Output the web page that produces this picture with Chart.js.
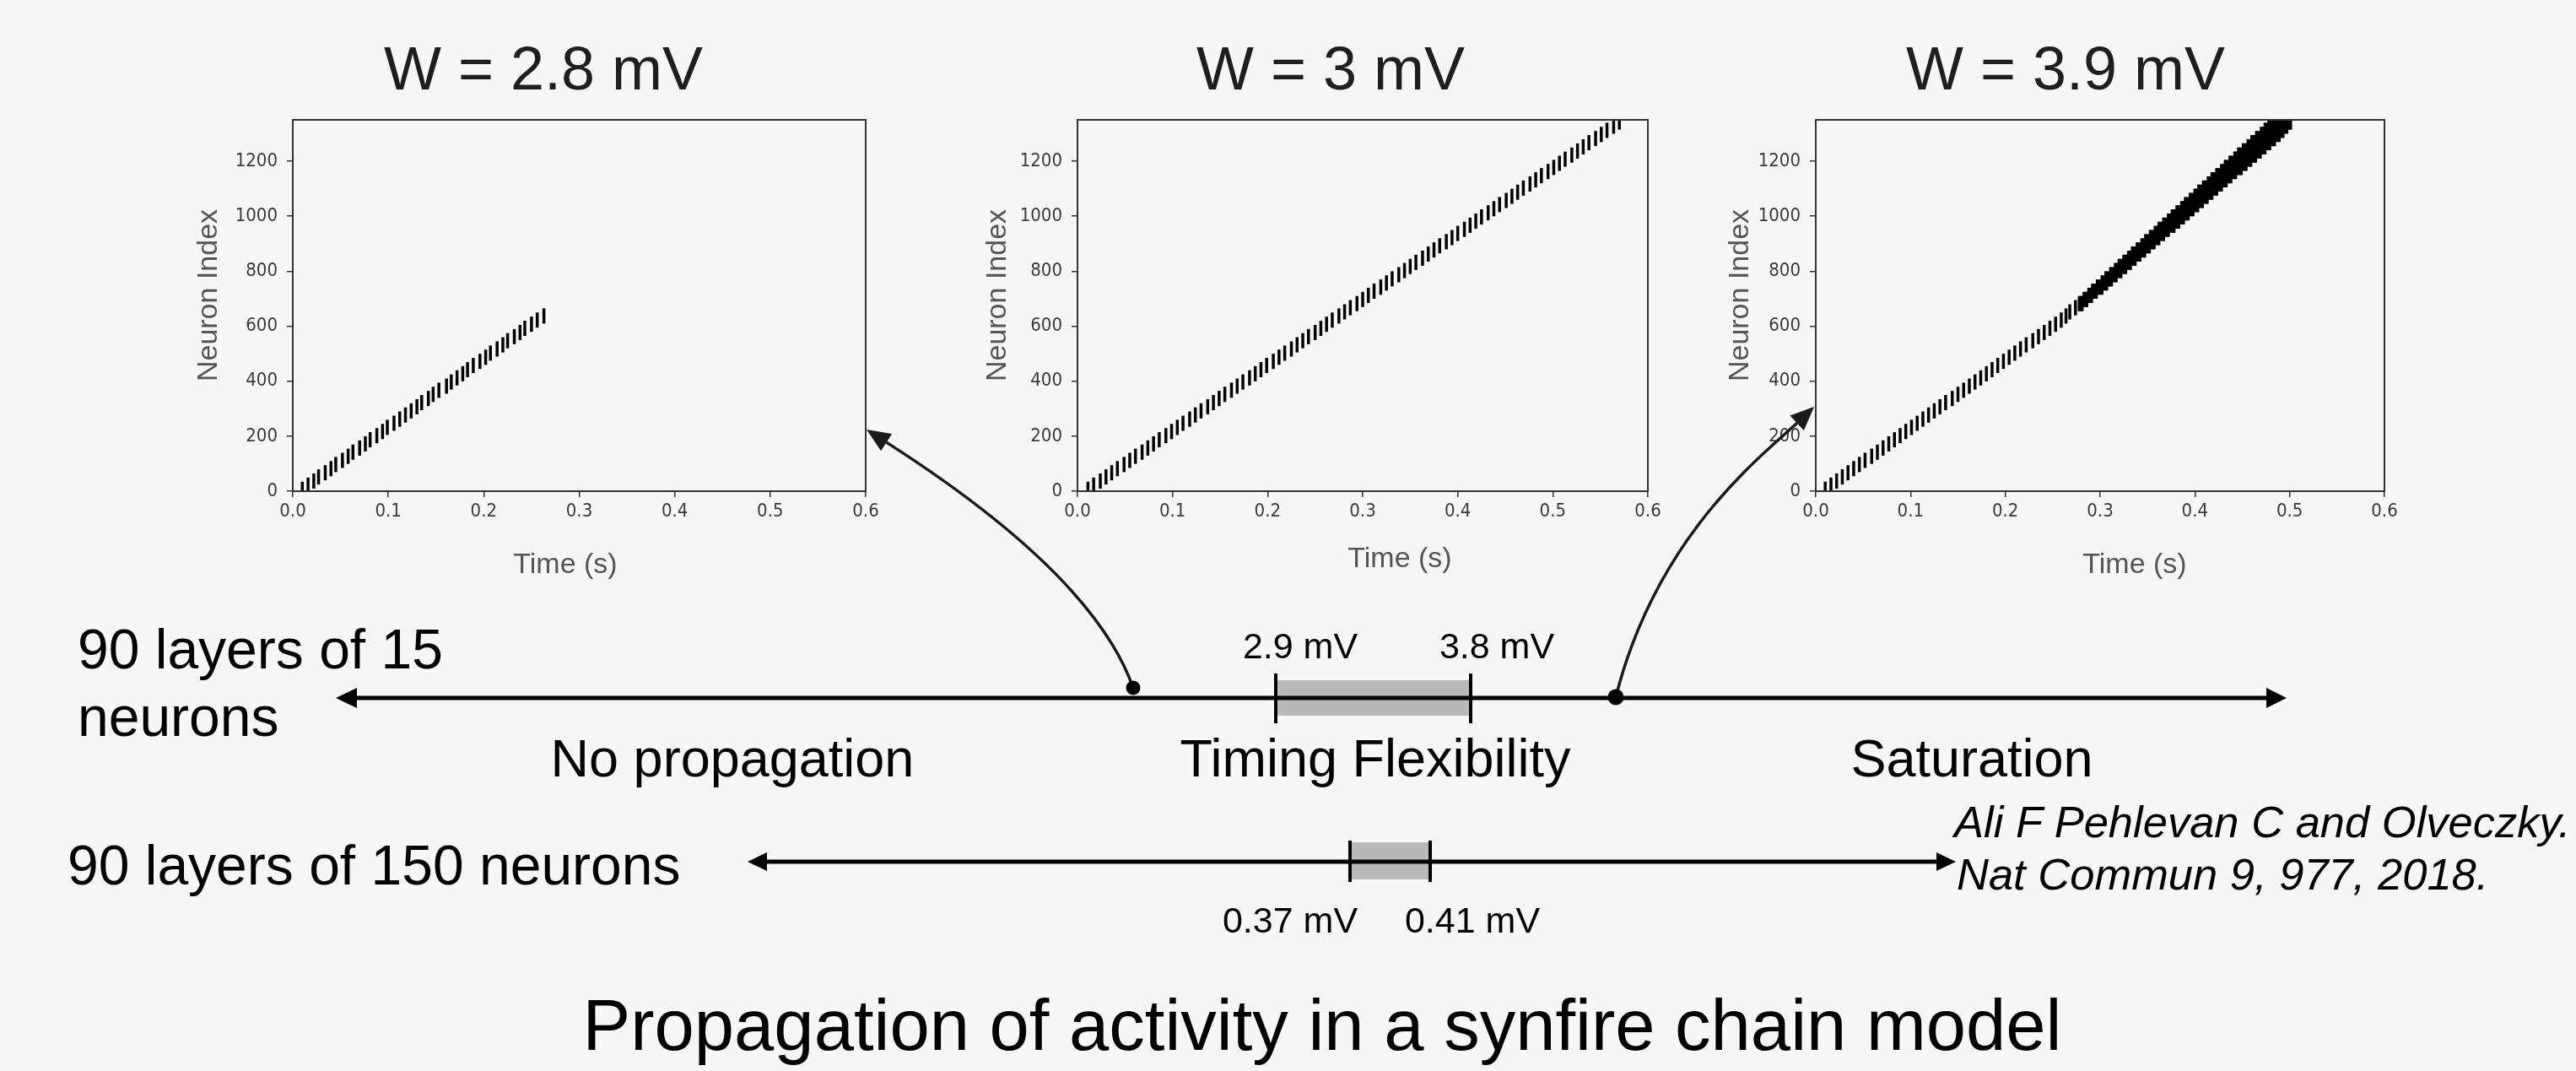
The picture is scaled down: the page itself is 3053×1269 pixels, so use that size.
<!DOCTYPE html>
<html>
<head>
<meta charset="utf-8">
<script src="https://cdn.jsdelivr.net/npm/chart.js@4.4.1/dist/chart.umd.min.js"></script>
<style>
  html, body { margin: 0; padding: 0; background: #f7f7f7; }
  #page { position: relative; width: 3053px; height: 1269px; overflow: hidden; background: #f7f7f7; }
  .plot { position: absolute; }
  #overlay { position: absolute; left: 0; top: 0; }
  #overlay text { font-family: "Liberation Sans", Arial, sans-serif; }
</style>
</head>
<body>
<div id="page">
  <div class="plot" id="p1"><canvas></canvas></div>
  <div class="plot" id="p2"><canvas></canvas></div>
  <div class="plot" id="p3"><canvas></canvas></div>

  <svg id="overlay" width="3053" height="1269" xmlns="http://www.w3.org/2000/svg">
    <!-- panel titles -->
    <text x="644" y="106" font-size="72" fill="#1e1e1e" text-anchor="middle">W = 2.8 mV</text>
    <text x="1577" y="106" font-size="72" fill="#1e1e1e" text-anchor="middle">W = 3 mV</text>
    <text x="2448" y="106" font-size="72" fill="#1e1e1e" text-anchor="middle">W = 3.9 mV</text>

    <!-- axis titles -->
    <text x="245" y="350" font-size="34" fill="#555" text-anchor="middle" dominant-baseline="central" transform="rotate(-90 245 350)">Neuron Index</text>
    <text x="1180" y="350" font-size="34" fill="#555" text-anchor="middle" dominant-baseline="central" transform="rotate(-90 1180 350)">Neuron Index</text>
    <text x="2060" y="350" font-size="34" fill="#555" text-anchor="middle" dominant-baseline="central" transform="rotate(-90 2060 350)">Neuron Index</text>
    <text x="670" y="679" font-size="34" fill="#555" text-anchor="middle">Time (s)</text>
    <text x="1659" y="672" font-size="34" fill="#555" text-anchor="middle">Time (s)</text>
    <text x="2530" y="679" font-size="34" fill="#555" text-anchor="middle">Time (s)</text>

    <!-- 15-neuron axis -->
    <rect x="1513" y="806" width="231" height="42" fill="#b9b9b9"/>
    <line x1="418" y1="827" x2="2690" y2="827" stroke="#000" stroke-width="5"/>
    <polygon points="398,827 423,815 423,839" fill="#000"/>
    <polygon points="2710,827 2686,815 2686,839" fill="#000"/>
    <line x1="1512" y1="798" x2="1512" y2="857" stroke="#000" stroke-width="4"/>
    <line x1="1743" y1="798" x2="1743" y2="857" stroke="#000" stroke-width="4"/>

    <!-- 150-neuron axis -->
    <rect x="1601" y="998" width="94" height="44" fill="#b9b9b9"/>
    <line x1="905" y1="1021" x2="2300" y2="1021" stroke="#000" stroke-width="5"/>
    <polygon points="886,1021 909,1010 909,1032" fill="#000"/>
    <polygon points="2318,1021 2295,1010 2295,1032" fill="#000"/>
    <line x1="1600" y1="996" x2="1600" y2="1045" stroke="#000" stroke-width="4"/>
    <line x1="1695" y1="996" x2="1695" y2="1045" stroke="#000" stroke-width="4"/>

    <!-- pointers to the rasters -->
    <path d="M1343,815 Q1296,681 1050.6,524.1" fill="none" stroke="#1a1a1a" stroke-width="3.5"/>
    <polygon points="1027,509 1057.1,514.0 1044.1,534.2" fill="#1a1a1a"/>
    <circle cx="1343" cy="815" r="8.5" fill="#000"/>
    <path d="M1915,826 C1964,632 2092,537 2129.7,501.3" fill="none" stroke="#1a1a1a" stroke-width="3.5"/>
    <polygon points="2150,482 2137.9,510.0 2121.4,492.6" fill="#1a1a1a"/>
    <circle cx="1915" cy="826" r="9.5" fill="#000"/>

    <!-- labels -->
    <text x="92" y="792" font-size="66" fill="#000">90 layers of 15</text>
    <text x="92" y="872" font-size="66" fill="#000">neurons</text>
    <text x="1541" y="780" font-size="43" fill="#000" text-anchor="middle">2.9 mV</text>
    <text x="1774" y="780" font-size="43" fill="#000" text-anchor="middle">3.8 mV</text>
    <text x="868" y="920" font-size="63" fill="#000" text-anchor="middle">No propagation</text>
    <text x="1630" y="920" font-size="63" fill="#000" text-anchor="middle">Timing Flexibility</text>
    <text x="2337" y="920" font-size="63" fill="#000" text-anchor="middle">Saturation</text>
    <text x="80" y="1048" font-size="66" fill="#000">90 layers of 150 neurons</text>
    <text x="1529" y="1105" font-size="43" fill="#000" text-anchor="middle">0.37 mV</text>
    <text x="1745" y="1105" font-size="43" fill="#000" text-anchor="middle">0.41 mV</text>
    <text x="2316" y="992" font-size="52.5" font-style="italic" fill="#000">Ali F Pehlevan C and Olveczky.</text>
    <text x="2319" y="1054" font-size="52.5" font-style="italic" fill="#000">Nat Commun 9, 977, 2018.</text>
    <text x="1567" y="1244" font-size="85" fill="#000" text-anchor="middle">Propagation of activity in a synfire chain model</text>
  </svg>
</div>

<script>
// model: 90 layers of 15 neurons, one row of ticks per layer
const LAYER_SIZE = 15;

// axis ticks
const timeTicks = [0, 0.1, 0.2, 0.3, 0.4, 0.5, 0.6];
const neuronTicks = [0, 200, 400, 600, 800, 1000, 1200];

// spike time (s) of each layer
const w28SpikeTimes = [
  0.010, 0.016, 0.022, 0.027, 0.034, 0.040, 0.045, 0.052, 0.058, 0.063,
  0.070, 0.076, 0.081, 0.088, 0.094, 0.099, 0.106, 0.112, 0.118, 0.124,
  0.130, 0.135, 0.142, 0.147, 0.153, 0.161, 0.166, 0.172, 0.178, 0.183,
  0.189, 0.196, 0.202, 0.207, 0.214, 0.220, 0.225, 0.232, 0.238, 0.243,
  0.250, 0.256, 0.263
];

const w30SpikeTimes = [
  0.011, 0.017, 0.024, 0.030, 0.036, 0.042, 0.049, 0.055, 0.061, 0.068,
  0.074, 0.080, 0.086, 0.093, 0.099, 0.105, 0.111, 0.118, 0.124, 0.130,
  0.137, 0.143, 0.149, 0.155, 0.162, 0.168, 0.174, 0.181, 0.187, 0.193,
  0.199, 0.206, 0.212, 0.218, 0.225, 0.231, 0.237, 0.243, 0.250, 0.256,
  0.262, 0.268, 0.275, 0.281, 0.287, 0.294, 0.300, 0.306, 0.312, 0.319,
  0.325, 0.331, 0.338, 0.344, 0.350, 0.356, 0.363, 0.369, 0.375, 0.381,
  0.388, 0.394, 0.400, 0.407, 0.413, 0.419, 0.425, 0.432, 0.438, 0.444,
  0.451, 0.457, 0.463, 0.469, 0.476, 0.482, 0.488, 0.495, 0.501, 0.507,
  0.513, 0.520, 0.526, 0.532, 0.538, 0.545, 0.551, 0.557, 0.564, 0.570
];

// W = 3.9 mV: sharp volleys for the first 45 layers...
const w39SpikeTimes = [
  0.010, 0.016, 0.022, 0.028, 0.034, 0.040, 0.046, 0.052, 0.059, 0.065,
  0.071, 0.077, 0.083, 0.089, 0.095, 0.101, 0.107, 0.113, 0.119, 0.125,
  0.131, 0.137, 0.144, 0.150, 0.156, 0.162, 0.168, 0.174, 0.180, 0.186,
  0.192, 0.198, 0.204, 0.210, 0.216, 0.222, 0.229, 0.235, 0.241, 0.247,
  0.253, 0.259, 0.264, 0.268, 0.274
];
// ...then saturated layers whose spikes spread between a first and last time
const w39SatFirst = [
  0.278, 0.283, 0.288, 0.292, 0.297, 0.302, 0.306, 0.311, 0.316, 0.320,
  0.325, 0.330, 0.334, 0.339, 0.344, 0.348, 0.353, 0.358, 0.362, 0.367,
  0.372, 0.376, 0.381, 0.386, 0.390, 0.395, 0.400, 0.404, 0.409, 0.414,
  0.418, 0.423, 0.428, 0.432, 0.437, 0.442, 0.446, 0.451, 0.456, 0.460,
  0.465, 0.470, 0.474, 0.478, 0.482
];
const w39SatLast = [
  0.281, 0.286, 0.291, 0.296, 0.302, 0.307, 0.312, 0.317, 0.322, 0.327,
  0.332, 0.337, 0.342, 0.347, 0.352, 0.357, 0.362, 0.367, 0.372, 0.378,
  0.383, 0.388, 0.393, 0.398, 0.403, 0.408, 0.413, 0.418, 0.423, 0.428,
  0.433, 0.438, 0.443, 0.449, 0.454, 0.459, 0.464, 0.469, 0.474, 0.479,
  0.484, 0.489, 0.493, 0.497, 0.501
];

// layout of the three plot areas on the page
const AREA_TOP = 142, AREA_BOTTOM = 582;
const Y_AXIS_W = 150, X_AXIS_H = 60, PAD_TOP = 16, PAD_RIGHT = 40;
const TICK_FONT = { family: '"DejaVu Sans Condensed", "DejaVu Sans", sans-serif', size: 22 };
const TICK_MARK = 9;   // half height of a spike tick, px

function layerCenter(layer) {
  return layer * LAYER_SIZE + 7;
}

function spikePoints(times, firstLayer) {
  return times.map((t, i) => ({ x: t, y: layerCenter(firstLayer + i) }));
}

function tickDataset(points) {
  return {
    data: points,
    pointStyle: 'line',
    pointRotation: 90,
    pointRadius: TICK_MARK,
    pointHoverRadius: TICK_MARK,
    pointBorderWidth: 3.5,
    pointBorderColor: '#000',
    pointBackgroundColor: '#000'
  };
}

// box around the plot area (top and right sides are not drawn by the axes)
const framePlugin = {
  id: 'frame',
  afterDraw(chart) {
    const a = chart.chartArea;
    const ctx = chart.ctx;
    ctx.save();
    ctx.strokeStyle = '#333';
    ctx.lineWidth = 2;
    ctx.strokeRect(a.left, a.top, a.right - a.left, a.bottom - a.top);
    ctx.restore();
  }
};

function makeRaster(id, left, right, datasets) {
  const wrap = document.getElementById(id);
  const w = right - left + Y_AXIS_W + PAD_RIGHT;
  const h = AREA_BOTTOM - AREA_TOP + PAD_TOP + X_AXIS_H;
  wrap.style.left = (left - Y_AXIS_W) + 'px';
  wrap.style.top = (AREA_TOP - PAD_TOP) + 'px';
  wrap.style.width = w + 'px';
  wrap.style.height = h + 'px';
  const canvas = wrap.querySelector('canvas');
  canvas.width = w;
  canvas.height = h;
  canvas.style.width = w + 'px';
  canvas.style.height = h + 'px';

  const axisGrid = { display: true, drawOnChartArea: false, drawTicks: true, tickLength: 7, color: '#333', lineWidth: 1.5 };
  const axisBorder = { display: true, color: '#333', width: 2 };

  return new Chart(canvas, {
    type: 'scatter',
    data: { datasets: datasets },
    options: {
      responsive: false,
      animation: false,
      devicePixelRatio: 1,
      events: [],
      layout: { padding: { top: PAD_TOP, right: PAD_RIGHT, left: 0, bottom: 0 } },
      plugins: { legend: { display: false }, tooltip: { enabled: false } },
      scales: {
        x: {
          type: 'linear',
          min: 0,
          max: 0.6,
          afterFit: s => {
            s.height = X_AXIS_H;
            s.paddingLeft = 0; s.paddingRight = 0;
          },
          afterBuildTicks: s => { s.ticks = timeTicks.map(v => ({ value: v })); },
          ticks: { callback: v => v.toFixed(1), font: TICK_FONT, color: '#3a3a3a', padding: 4, maxRotation: 0, autoSkip: false },
          grid: axisGrid,
          border: axisBorder
        },
        y: {
          type: 'linear',
          min: 0,
          max: 1350,
          afterFit: s => {
            s.width = Y_AXIS_W;
            s.paddingTop = 0; s.paddingBottom = 0;
          },
          afterBuildTicks: s => { s.ticks = neuronTicks.map(v => ({ value: v })); },
          ticks: { callback: v => String(v), font: TICK_FONT, color: '#3a3a3a', padding: 11, autoSkip: false },
          grid: axisGrid,
          border: axisBorder
        }
      }
    },
    plugins: [framePlugin]
  });
}

// saturated layers drawn as thick horizontal bars from first to last spike
const satStart = w39SpikeTimes.length;
const bandPoints = [];
w39SatFirst.forEach((t0, i) => {
  const c = layerCenter(satStart + i);
  bandPoints.push({ x: t0, y: c }, { x: w39SatLast[i], y: c }, { x: w39SatLast[i], y: null });
});

makeRaster('p1', 347, 1026, [tickDataset(spikePoints(w28SpikeTimes, 0))]);
makeRaster('p2', 1277, 1953, [tickDataset(spikePoints(w30SpikeTimes, 0))]);
makeRaster('p3', 2152, 2826, [
  tickDataset(spikePoints(w39SpikeTimes, 0)
    .concat(spikePoints(w39SatFirst, satStart))
    .concat(spikePoints(w39SatLast, satStart))),
  {
    type: 'line',
    data: bandPoints,
    borderColor: '#000',
    borderWidth: TICK_MARK * 2,
    borderCapStyle: 'butt',
    pointRadius: 0,
    spanGaps: false
  }
]);
</script>
</body>
</html>
